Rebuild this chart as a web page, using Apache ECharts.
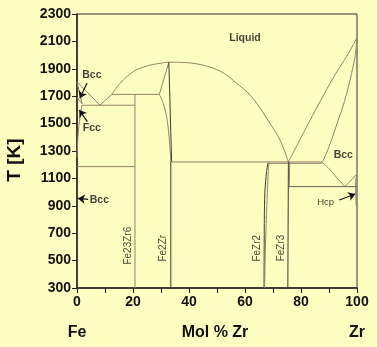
<!DOCTYPE html>
<html>
<head>
<meta charset="utf-8">
<script src="https://cdn.jsdelivr.net/npm/echarts@6/dist/echarts.min.js"></script>
<style>
  html, body { margin: 0; padding: 0; background: #FFFEC2; }
  #chart { width: 377px; height: 347px; }
</style>
</head>
<body>
<div id="chart"></div>
<script>
// Fe–Zr phase diagram: composition in mol % Zr, temperature in K.

// Axis ticks
const xTicks = [0, 20, 40, 60, 80, 100];
const yTicks = [300, 500, 700, 900, 1100, 1300, 1500, 1700, 1900, 2100, 2300];

// Fe-rich side
const liquidusFe = [[0, 1806], [8.2, 1634]];
const liquidusRise = [[8.2, 1634], [12.4, 1713]];
const bccSolidusFe = [[0, 1806], [1.8, 1645]];
const fccUpper = [[0, 1690], [1.8, 1645]];
const fccLower = [[1.8, 1636], [1.2, 1560], [0.6, 1470], [0.2, 1350], [0, 1250]];
const eutecticFe = [[1.8, 1634], [20.7, 1634]];
const eutectoidFe = [[0, 1186], [20.7, 1186]];
const peritecticFe23Zr6 = [[12.4, 1713], [29.4, 1713]];
const fe23zr6Line = [[20.7, 1713], [20.7, 300]];

// Liquidus from the Fe23Zr6 peritectic over the Fe2Zr maximum to the Zr-side eutectic
const liquidusArc = [[12.4, 1713], [15.4, 1794], [20.1, 1879], [24.9, 1920], [29.6, 1940],
  [33, 1948], [37, 1947], [43, 1935], [48.7, 1904], [53, 1860], [57, 1794], [61, 1725],
  [64.2, 1648], [68.9, 1502], [72.5, 1380], [75.5, 1220]];

// Fe2Zr homogeneity range
const fe2zrLeftUpper = [[32.8, 1947], [29.4, 1713]];
const fe2zrLeftLower = [[29.4, 1713], [30.8, 1648], [32, 1550], [32.9, 1400], [33.4, 1260], [33.5, 1220]];
const fe2zrRight = [[32.8, 1947], [33.8, 1220]];
const fe2zrLine = [[33.5, 1220], [33.5, 300]];

// Zr-rich invariant lines
const eutecticZr = [[33.8, 1220], [87.6, 1220]];
const peritecticFeZr2 = [[68.3, 1210], [87.6, 1210]];
const fezr2Left = [[68.2, 1215], [67.7, 1150], [67.1, 1000], [66.9, 800], [66.8, 300]];
const fezr2Right = [[68.5, 1215], [68.2, 1100], [67.8, 900], [67.3, 600], [67.0, 300]];
const fezr3Line = [[75.5, 1220], [75.3, 300]];
const fezr3Edge = [[76.0, 1220], [75.8, 1040]];
const eutectoidZr = [[75.6, 1040], [100, 1040]];

// Zr-rich Bcc field
const liquidusZr = [[75.5, 1220], [81.4, 1453], [86.8, 1660], [92.1, 1855], [96.3, 1990], [100, 2128]];
const solidusZr = [[87.6, 1218], [90, 1330], [93.3, 1526], [95.5, 1660], [97.5, 1818], [99.3, 1990], [100, 2128]];
const bccZrLower = [[87.6, 1218], [90.4, 1162], [93.3, 1093], [95.7, 1040]];
const hcpBcc = [[95.7, 1040], [100, 1132]];
const hcpSolvus = [[100, 1132], [99.5, 1085], [99.5, 1040], [99.7, 900]];

// Phase field labels: [x, T, text]
const fieldLabels = [
  [60, 2125, 'Liquid'],
  [5.3, 1855, 'Bcc'],
  [5.3, 1466, 'Fcc'],
  [8.0, 942, 'Bcc'],
  [95.1, 1271, 'Bcc']
];
const hcpLabel = [[88.8, 925, 'Hcp']];
// Compound labels: [x, T, text]
const compoundLabels = [
  [18.3, 609, 'Fe23Zr6'],
  [30.8, 590, 'Fe2Zr'],
  [64.5, 590, 'FeZr2'],
  [72.9, 592, 'FeZr3']
];
// Pointer arrows: [from, to]
const arrows = [
  [[3.6, 1796], [1.0, 1685]],
  [[3.7, 1514], [0.8, 1599]],
  [[4.0, 947], [0.3, 954]],
  [[93.7, 942], [99.4, 986]]
];

const TAN = '#94806a';
const DARK = '#3f3830';
const FONT = '"Liberation Sans", Arial, sans-serif';

function boundary(data, color, smooth) {
  return {
    type: 'line', data: data, symbol: 'none', smooth: smooth || false,
    lineStyle: { color: color, width: 1 }, silent: true, z: 3
  };
}

const series = [
  boundary(liquidusFe, TAN),
  boundary(liquidusRise, TAN),
  boundary(bccSolidusFe, TAN),
  boundary(fccUpper, TAN),
  boundary(fccLower, TAN, 0.4),
  boundary(eutecticFe, TAN),
  boundary(eutectoidFe, TAN),
  boundary(peritecticFe23Zr6, TAN),
  boundary(fe23zr6Line, TAN),
  boundary(liquidusArc, TAN, 0.4),
  boundary(fe2zrLeftUpper, TAN),
  boundary(fe2zrLeftLower, TAN, 0.4),
  boundary(fe2zrRight, DARK),
  boundary(fe2zrLine, DARK),
  boundary(eutecticZr, TAN),
  boundary(peritecticFeZr2, TAN),
  boundary(fezr2Left, DARK, 0.3),
  boundary(fezr2Right, TAN, 0.3),
  boundary(fezr3Line, DARK),
  boundary(fezr3Edge, TAN),
  boundary(eutectoidZr, '#6a6056'),
  boundary(liquidusZr, TAN, 0.4),
  boundary(solidusZr, TAN, 0.4),
  boundary(bccZrLower, TAN, 0.4),
  boundary(hcpBcc, TAN),
  boundary(hcpSolvus, TAN, 0.3),
  {
    type: 'lines', coordinateSystem: 'cartesian2d', polyline: false, silent: true, z: 5,
    symbol: ['none', 'arrow'], symbolSize: 7,
    lineStyle: { color: '#111', width: 1.2, opacity: 1 },
    data: arrows.map(a => ({ coords: a }))
  },
  {
    type: 'scatter', symbolSize: 0, silent: true, z: 6,
    data: fieldLabels.map(l => ({ value: [l[0], l[1]], name: l[2] })),
    label: {
      show: true, position: 'inside', formatter: p => p.name,
      color: '#111', fontFamily: FONT, fontWeight: 'bold', fontSize: 10.5
    }
  },
  {
    type: 'scatter', symbolSize: 0, silent: true, z: 6,
    data: hcpLabel.map(l => ({ value: [l[0], l[1]], name: l[2] })),
    label: {
      show: true, position: 'inside', formatter: p => p.name,
      color: '#111', fontFamily: FONT, fontSize: 9.5
    }
  },
  {
    type: 'scatter', symbolSize: 0, silent: true, z: 6,
    data: compoundLabels.map(l => ({ value: [l[0], l[1]], name: l[2] })),
    label: {
      show: true, position: 'inside', rotate: 90, formatter: p => p.name,
      color: '#111', fontFamily: FONT, fontSize: 10
    }
  }
];

const chart = echarts.init(document.getElementById('chart'), null, { renderer: 'canvas' });
chart.setOption({
  animation: false,
  backgroundColor: '#FFFEC2',
  grid: {
    left: 77, right: 20, top: 14, bottom: 59,
    show: true, borderColor: '#333', borderWidth: 1, backgroundColor: 'transparent'
  },
  xAxis: {
    type: 'value', min: xTicks[0], max: xTicks[xTicks.length - 1], interval: 10,
    splitLine: { show: false },
    axisLine: { lineStyle: { color: '#222', width: 1.5 } },
    axisTick: { length: 5, lineStyle: { color: '#222', width: 1 } },
    axisLabel: {
      margin: 7, color: '#111', fontFamily: FONT, fontWeight: 'bold', fontSize: 14,
      formatter: v => (xTicks.indexOf(v) >= 0 ? String(v) : '')
    }
  },
  yAxis: {
    type: 'value', min: yTicks[0], max: yTicks[yTicks.length - 1], interval: 200,
    splitLine: { show: false },
    axisLine: { lineStyle: { color: '#222', width: 1.5 } },
    axisTick: { length: 5, lineStyle: { color: '#222', width: 1 } },
    axisLabel: {
      margin: 6, color: '#111', fontFamily: FONT, fontWeight: 'bold', fontSize: 14,
      formatter: v => String(v)
    }
  },
  graphic: [
    { type: 'text', x: 15, y: 160, rotation: Math.PI / 2,
      style: { text: 'T [K]', fill: '#111', font: 'bold 19px ' + FONT, align: 'center', verticalAlign: 'middle' } },
    { type: 'text', x: 77, y: 333,
      style: { text: 'Fe', fill: '#111', font: 'bold 16px ' + FONT, align: 'center', verticalAlign: 'middle' } },
    { type: 'text', x: 215, y: 333,
      style: { text: 'Mol % Zr', fill: '#111', font: 'bold 16px ' + FONT, align: 'center', verticalAlign: 'middle' } },
    { type: 'text', x: 357, y: 333,
      style: { text: 'Zr', fill: '#111', font: 'bold 16px ' + FONT, align: 'center', verticalAlign: 'middle' } }
  ],
  series: series
});
</script>
</body>
</html>
